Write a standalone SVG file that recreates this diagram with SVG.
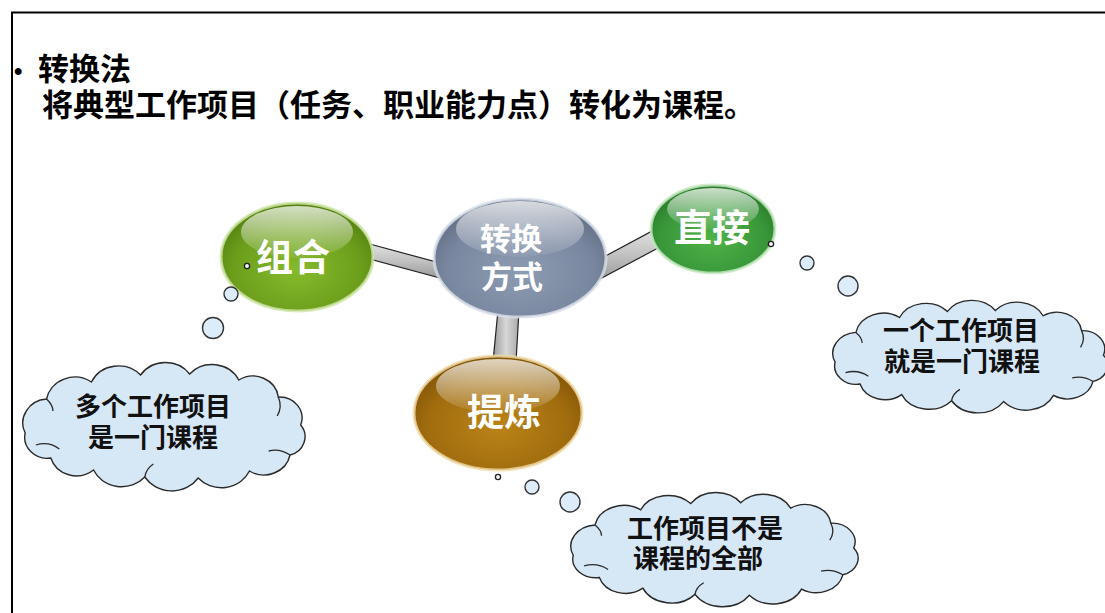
<svg xmlns="http://www.w3.org/2000/svg" xmlns:xlink="http://www.w3.org/1999/xlink" width="1105" height="613" viewBox="0 0 1105 613">
<style>
.cjk{font-family:"Noto Sans CJK SC","Noto Sans",sans-serif;font-weight:700}
.title{font-size:31px;fill:#000}
.node-t{fill:#ffffff;text-anchor:middle}
.cloud-t{font-size:26px;fill:#111;text-anchor:middle}
.cloud{fill:#d6e7f6;stroke:#2a2a2a;stroke-width:1.4}
.inner{fill:none;stroke:#2a2a2a;stroke-width:1.3}
.bub{fill:#dcecfa;stroke:#333;stroke-width:1.4}
.dot{fill:#f4f8fc;stroke:#222;stroke-width:1.3}
.bar{stroke:#222;stroke-width:1.2}
</style>
<defs>
<linearGradient id="barG" x1="0" y1="0" x2="0" y2="1">
<stop offset="0" stop-color="#e2e2e2"/><stop offset="0.5" stop-color="#c2c2c2"/><stop offset="1" stop-color="#9a9a9a"/>
</linearGradient>
<linearGradient id="barV" x1="0" y1="0" x2="1" y2="0">
<stop offset="0" stop-color="#9a9a9a"/><stop offset="0.5" stop-color="#d8d8d8"/><stop offset="1" stop-color="#a8a8a8"/>
</linearGradient>
<radialGradient id="gOlive" cx="0.5" cy="0.62" r="0.6">
<stop offset="0" stop-color="#86bb2c"/><stop offset="0.7" stop-color="#6c9e1c"/><stop offset="1" stop-color="#55820f"/>
</radialGradient>
<radialGradient id="gGreen" cx="0.5" cy="0.62" r="0.6">
<stop offset="0" stop-color="#4fb246"/><stop offset="0.7" stop-color="#39973a"/><stop offset="1" stop-color="#2a7c2a"/>
</radialGradient>
<radialGradient id="gGray" cx="0.5" cy="0.62" r="0.6">
<stop offset="0" stop-color="#8d9cb2"/><stop offset="0.7" stop-color="#7987a0"/><stop offset="1" stop-color="#636f86"/>
</radialGradient>
<radialGradient id="gBrown" cx="0.5" cy="0.62" r="0.6">
<stop offset="0" stop-color="#bb8418"/><stop offset="0.7" stop-color="#a06c0e"/><stop offset="1" stop-color="#835506"/>
</radialGradient>
<linearGradient id="hl" x1="0" y1="0" x2="0" y2="1">
<stop offset="0" stop-color="#ffffff" stop-opacity="0.75"/><stop offset="1" stop-color="#ffffff" stop-opacity="0.05"/>
</linearGradient>
<path id="cloudShape" vector-effect="non-scaling-stroke" d="M10 68 A24 24 0 0 1 30 34 A27 27 0 0 1 72 17 A28 28 0 0 1 118 10 A28 28 0 0 1 164 9 A28 28 0 0 1 210 15 A24 24 0 0 1 247 32 A21 21 0 0 1 268 60 A19 19 0 0 1 258 90 A25 25 0 0 1 220 106 A29 29 0 0 1 172 113 A30 30 0 0 1 122 112 A29 29 0 0 1 74 105 A25 25 0 0 1 34 93 A21 21 0 0 1 10 68 Z"/>
<g id="cloudInner">
<path vector-effect="non-scaling-stroke" d="M20 80 Q32 76 42 84"/>
<path vector-effect="non-scaling-stroke" d="M247 32 Q251 42 246 51"/>
<path vector-effect="non-scaling-stroke" d="M258 90 Q248 83 238 86"/>
<path vector-effect="non-scaling-stroke" d="M122 112 Q123 104 130 99"/>
<path vector-effect="non-scaling-stroke" d="M30 34 Q36 40 36 46"/>
</g>
</defs>

<rect x="0" y="0" width="1105" height="613" fill="#ffffff"/>
<rect x="12" y="12.5" width="1110" height="620" fill="none" stroke="#000" stroke-width="2"/>

<g id="title">
<text x="14" y="79" font-family="Liberation Sans, sans-serif" font-size="24" font-weight="700">•</text>
<text class="cjk title" x="38" y="80">转换法</text>
<text class="cjk title" x="42" y="116">将典型工作项目（任务、职业能力点）转化为课程。</text>
</g>

<g id="connectors">
<polygon class="bar" fill="url(#barG)" points="366,243 440,263 440,278 366,258"/>
<polygon class="bar" fill="url(#barG)" points="598,260 656,229 660,247 598,280"/>
<polygon class="bar" fill="url(#barV)" points="498,310 519,310 516,362 493,362"/>
</g>

<g id="node-zuhe">
<ellipse cx="297" cy="257" rx="76" ry="54" fill="url(#gOlive)" stroke="#cfe6a8" stroke-width="3" stroke-opacity="0.8"/>
<ellipse cx="297" cy="232" rx="56" ry="26" fill="url(#hl)"/>
<text class="cjk node-t" x="293" y="271" font-size="37">组合</text>
</g>

<g id="node-zhuanhuan">
<ellipse cx="520" cy="258" rx="86" ry="59" fill="url(#gGray)" stroke="#d9e0ea" stroke-width="3" stroke-opacity="0.8"/>
<ellipse cx="520" cy="229" rx="64" ry="28" fill="url(#hl)"/>
<text class="cjk node-t" x="511" y="250" font-size="31">转换</text>
<text class="cjk node-t" x="512" y="288" font-size="31">方式</text>
</g>

<g id="node-zhijie">
<ellipse cx="713" cy="229" rx="62" ry="44" fill="url(#gGreen)" stroke="#c6e8c0" stroke-width="3" stroke-opacity="0.8"/>
<ellipse cx="713" cy="209" rx="46" ry="21" fill="url(#hl)"/>
<text class="cjk node-t" x="712" y="241" font-size="38">直接</text>
</g>

<g id="node-tilian">
<ellipse cx="498" cy="413" rx="84" ry="57" fill="url(#gBrown)" stroke="#f0d9a6" stroke-width="3" stroke-opacity="0.8"/>
<ellipse cx="498" cy="386" rx="62" ry="27" fill="url(#hl)"/>
<text class="cjk node-t" x="504" y="426" font-size="37">提炼</text>
</g>

<g id="bubbles-left">
<circle class="dot" cx="247" cy="266" r="2.6"/>
<circle class="bub" cx="231" cy="294" r="7"/>
<circle class="bub" cx="213" cy="328" r="10.5"/>
</g>
<g id="bubbles-right">
<circle class="dot" cx="771" cy="244" r="2.6"/>
<circle class="bub" cx="807" cy="263" r="7"/>
<circle class="bub" cx="848" cy="286" r="10"/>
</g>
<g id="bubbles-bottom">
<circle class="dot" cx="498" cy="477" r="2.6"/>
<circle class="bub" cx="532" cy="487" r="7"/>
<circle class="bub" cx="570" cy="502" r="10"/>
</g>

<g id="cloud-left">
<g transform="translate(14.5,365) scale(1.068,1.0)">
<use xlink:href="#cloudShape" class="cloud"/>
<use xlink:href="#cloudInner" class="inner"/>
</g>
<text class="cjk cloud-t" x="153" y="416">多个工作项目</text>
<text class="cjk cloud-t" x="153" y="447">是一门课程</text>
</g>

<g id="cloud-right">
<g transform="translate(824.7,302.6) scale(1.04,0.876)">
<use xlink:href="#cloudShape" class="cloud"/>
<use xlink:href="#cloudInner" class="inner"/>
</g>
<text class="cjk cloud-t" x="961" y="340">一个工作项目</text>
<text class="cjk cloud-t" x="962" y="371">就是一门课程</text>
</g>

<g id="cloud-bottom">
<g transform="translate(562.4,494.7) scale(1.087,0.89)">
<use xlink:href="#cloudShape" class="cloud"/>
<use xlink:href="#cloudInner" class="inner"/>
</g>
<text class="cjk cloud-t" x="705" y="538">工作项目不是</text>
<text class="cjk cloud-t" x="698" y="568">课程的全部</text>
</g>
</svg>
